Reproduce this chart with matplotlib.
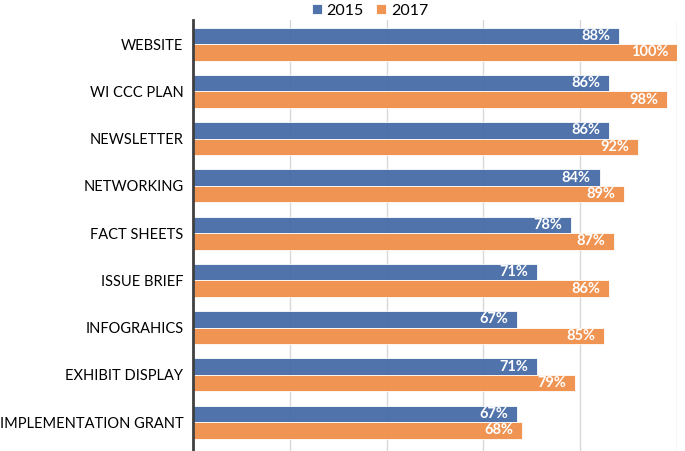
import numpy as np
import matplotlib
matplotlib.use("Agg")
import matplotlib.pyplot as plt

# ====================================================================
# DATA
# ====================================================================
categories = ["WEBSITE", "WI CCC PLAN", "NEWSLETTER", "NETWORKING", "FACT SHEETS",
              "ISSUE BRIEF", "INFOGRAHICS", "EXHIBIT DISPLAY", "IMPLEMENTATION GRANT"]
vals_2015 = [88, 86, 86, 84, 78, 71, 67, 71, 67]
vals_2017 = [100, 98, 92, 89, 87, 86, 85, 79, 68]
series_names = ["2015", "2017"]
colors = ["#4A6EA8", "#F0914D"]

plt.rcParams["font.family"] = ["Lato", "DejaVu Sans"]

fig = plt.figure(figsize = (6.85, 4.51), dpi = 100)
ax = fig.add_axes([193 / 685, 0, 484 / 685, 431 / 451])

y = np.arange(len(categories))
h = 0.35
for k, (vals, col) in enumerate(zip([vals_2015, vals_2017], colors)):
    off = -h / 2 if k == 0 else h / 2
    bars = ax.barh(y + off, vals, height = h, color = col, edgecolor = "#ffffff",
                   linewidth = 0.6, alpha = 0.97, label = series_names[k], zorder = 2)
    for b, v in zip(bars, vals):
        ax.text(v - 1.8, b.get_y() + b.get_height() / 2, f"{v}%", ha = "right",
                va = "center", color = "white", fontsize = 10.5, fontweight = "bold", zorder = 4)

ax.set_xlim(0, 100)
ax.set_ylim(8.61, -0.51)
ax.set_yticks(y)
ax.set_yticklabels(categories, fontsize = 10.5)
ax.tick_params(axis = "y", length = 0, pad = 7)
ax.set_xticks([20, 40, 60, 80, 100])
ax.set_xticklabels([])
ax.tick_params(axis = "x", length = 0)
ax.grid(axis = "x", color = "#c8c8c8", linewidth = 1.0, zorder = 3, alpha = 0.7)
for s in ["top", "right", "bottom"]:
    ax.spines[s].set_visible(False)
ax.spines["left"].set_color("#404040")
ax.spines["left"].set_linewidth(2)
ax.spines["left"].set_zorder(5)

fig.legend(loc = "center", bbox_to_anchor = (370 / 685, 1 - 11 / 451), ncol = 2,
           frameon = False, fontsize = 11.5, handlelength = 0.6, handleheight = 0.6,
           handletextpad = 0.3, columnspacing = 0.8, borderaxespad = 0)

fig.savefig("out.png", dpi = 100)
